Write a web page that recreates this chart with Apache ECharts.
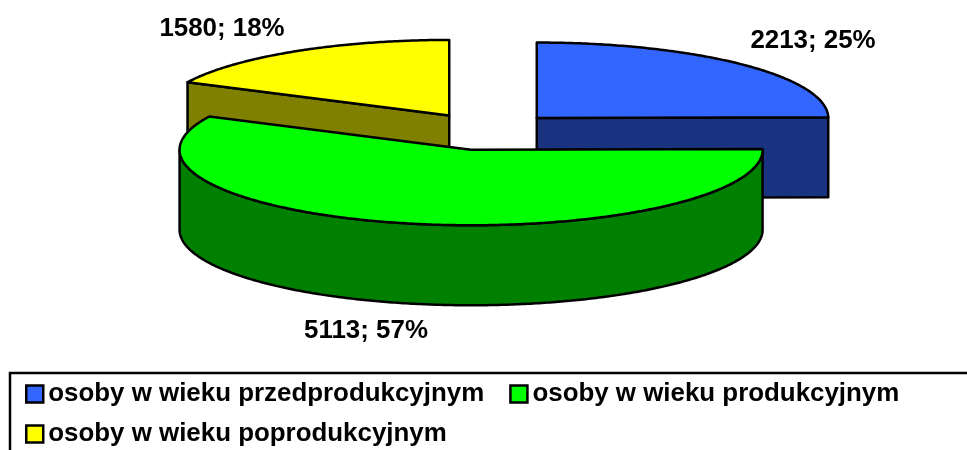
<!DOCTYPE html>
<html>
<head>
<meta charset="utf-8">
<style>
  html, body { margin: 0; padding: 0; background: #fff; }
  #chart { width: 967px; height: 450px; }
</style>
<script src="https://cdn.jsdelivr.net/npm/echarts@6/dist/echarts.min.js"></script>
</head>
<body>
<div id="chart"></div>
<script>
const categories = ['osoby w wieku przedprodukcyjnym', 'osoby w wieku produkcyjnym', 'osoby w wieku poprodukcyjnym'];
const values = [2213, 5113, 1580];

const topColors = ['#3366ff', '#00ff00', '#ffff00'];
const wallColors = ['#1a3380', '#008000', '#808000'];
const drawOrder = [2, 0, 1]; // yellow behind, green in front

// pie geometry in pixels (ECharts has no built-in 3D pie)
const cx = 486.8, cy = 131.4;
const rx = 291.5, ry = 75.5, depth = 80;
const explode = 71, explodeTilt = 0.265;
const labelCenters = [[813, 41], [366, 331], [222, 29]];
const fontSize = 25.9;
const fontFamily = '"Liberation Sans", Arial, sans-serif';

const total = values.reduce((a, b) => a + b, 0);
const startAngles = [];
values.reduce((acc, v, i) => {
  startAngles[i] = acc;
  return acc + v / total * Math.PI * 2;
}, 0);

function arcPoints(x0, y0, a0, a1) {
  const pts = [];
  const n = Math.max(2, Math.ceil((a1 - a0) / 0.01));
  for (let i = 0; i <= n; i++) {
    const a = a0 + (a1 - a0) * i / n;
    pts.push([x0 + rx * Math.sin(a), y0 - ry * Math.cos(a)]);
  }
  return pts;
}

function face(points, fill) {
  return {
    type: 'polygon',
    shape: { points: points },
    style: { fill: fill, stroke: '#000', lineWidth: 2.5, lineJoin: 'round' }
  };
}

function cutFace(x0, y0, angle, fill) {
  const x1 = x0 + rx * Math.sin(angle), y1 = y0 - ry * Math.cos(angle);
  return face([[x0, y0], [x1, y1], [x1, y1 + depth], [x0, y0 + depth]], fill);
}

function renderSlice(idx, api) {
  const value = api.value(0);
  const a0 = startAngles[idx];
  const a1 = a0 + value / total * Math.PI * 2;
  const mid = (a0 + a1) / 2;
  const x0 = cx + explode * Math.sin(mid);
  const y0 = cy - explode * explodeTilt * Math.cos(mid);
  const children = [];

  // cut faces that turn to the viewer
  if (idx === 2) children.push(cutFace(x0, y0, a0, wallColors[idx]));
  if (idx === 0) children.push(cutFace(x0, y0, a1, wallColors[idx]));

  // outer wall, front half only
  const w0 = Math.max(a0, Math.PI / 2), w1 = Math.min(a1, Math.PI * 1.5);
  if (w1 > w0) {
    const upper = arcPoints(x0, y0, w0, w1);
    const lower = upper.map(p => [p[0], p[1] + depth]).reverse();
    children.push(face(upper.concat(lower), wallColors[idx]));
  }
  // top
  children.push(face([[x0, y0]].concat(arcPoints(x0, y0, a0, a1)), topColors[idx]));
  // value label
  children.push({
    type: 'text',
    z2: 10,
    style: {
      x: labelCenters[idx][0],
      y: labelCenters[idx][1],
      text: value + '; ' + Math.round(value / total * 100) + '%',
      fontFamily: fontFamily,
      fontWeight: 'bold',
      fontSize: fontSize,
      fill: '#000',
      align: 'center',
      verticalAlign: 'middle'
    }
  });
  return { type: 'group', children: children };
}

const chart = echarts.init(document.getElementById('chart'));
chart.setOption({
  animation: false,
  backgroundColor: '#fff',
  graphic: [{
    type: 'rect',
    shape: { x: 10, y: 373, width: 1000, height: 120 },
    style: { fill: '#fff', stroke: '#000', lineWidth: 2.5 },
    z: 0,
    silent: true
  }],
  legend: {
    left: 25,
    top: 381,
    width: 930,
    padding: 0,
    selectedMode: false,
    itemWidth: 17,
    itemHeight: 17,
    itemGap: 14,
    icon: 'rect',
    textStyle: {
      fontFamily: fontFamily,
      fontWeight: 'bold',
      fontSize: fontSize,
      color: '#000',
      lineHeight: 24,
      padding: [0, 11, 0, 0]
    },
    data: categories.map((name, i) => ({
      name: name,
      itemStyle: { color: topColors[i], borderColor: '#000', borderWidth: 2.5 }
    }))
  },
  series: drawOrder.map((idx, order) => ({
    type: 'custom',
    name: categories[idx],
    coordinateSystem: 'none',
    z: 2 + order,
    silent: true,
    itemStyle: { color: topColors[idx] },
    data: [values[idx]],
    renderItem: (params, api) => renderSlice(idx, api)
  }))
});
</script>
</body>
</html>
